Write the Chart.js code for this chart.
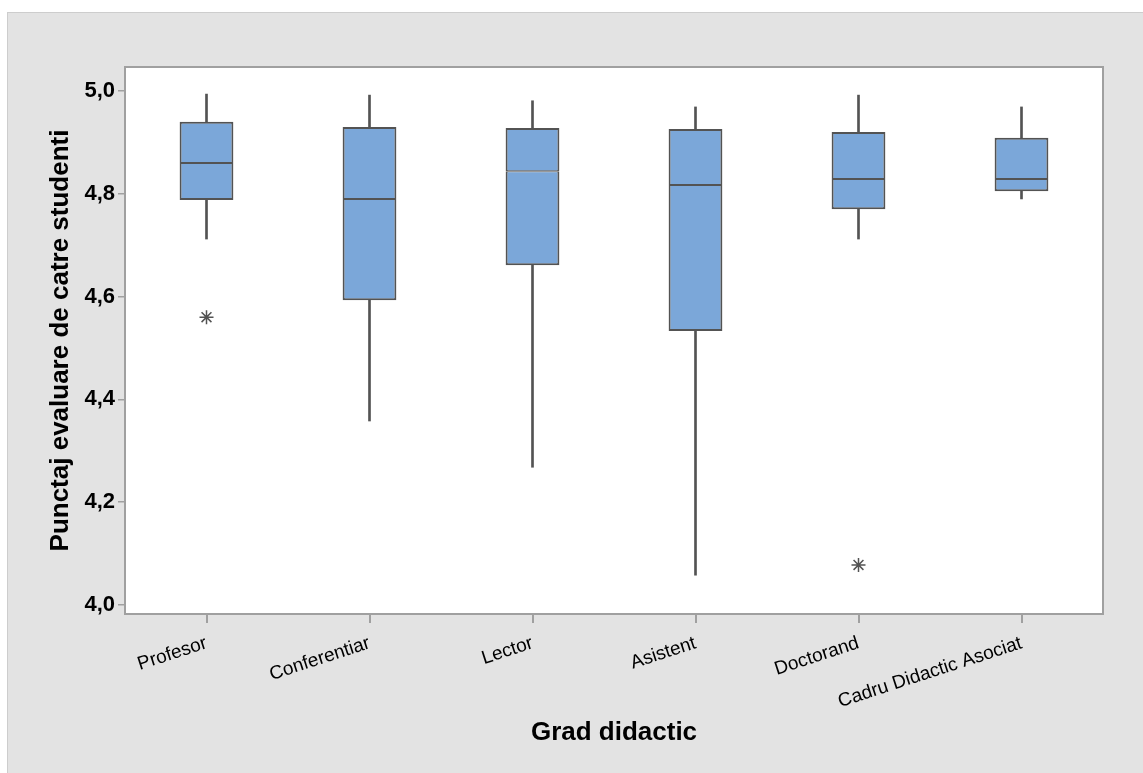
<!DOCTYPE html>
<html>
<head>
<meta charset="utf-8">
<script src="https://cdn.jsdelivr.net/npm/chart.js@4/dist/chart.umd.min.js"></script>
<style>
  body { margin: 0; background: #fff; }
  #wrap {
    position: absolute; left: 7px; top: 12px; width: 1136px; height: 761px;
    background: #e3e3e3; border-top: 1px solid #cdcdcd; border-left: 1px solid #cdcdcd;
  }
</style>
</head>
<body>
<div id="wrap"><canvas id="myChart"></canvas></div>
<script>
// Grad didactic - box plot values
const categories = ['Profesor', 'Conferentiar', 'Lector', 'Asistent', 'Doctorand', 'Cadru Didactic Asociat'];
const whiskerLow = [4.712, 4.358, 4.268, 4.058, 4.712, 4.790];
const q1Values   = [4.788, 4.593, 4.661, 4.533, 4.770, 4.805];
const medians    = [4.860, 4.790, 4.844, 4.817, 4.829, 4.829];
const q3Values   = [4.940, 4.930, 4.928, 4.926, 4.920, 4.909];
const whiskerHigh = [4.994, 4.992, 4.981, 4.969, 4.992, 4.969];
const outliers   = [4.560, null, null, null, 4.078, null];
const yTicks = [4.0, 4.2, 4.4, 4.6, 4.8, 5.0];

const BOX_COLOR = '#7ba7d9';
const LINE_COLOR = '#535353';
const FRAME_COLOR = '#a0a0a0';

const pair = (a, b) => a.map((v, i) => [v, b[i]]);

// white plot area and grey frame
const plotFrame = {
    id: 'plotFrame',
    beforeDatasetsDraw(chart) {
        const { ctx, chartArea: a } = chart;
        ctx.save();
        ctx.fillStyle = '#fff';
        ctx.fillRect(a.left, a.top, a.right - a.left, a.bottom - a.top);
        ctx.restore();
    },
    afterDatasetsDraw(chart) {
        const { ctx, chartArea: a } = chart;
        ctx.save();
        ctx.strokeStyle = FRAME_COLOR;
        ctx.lineWidth = 2;
        ctx.strokeRect(a.left, a.top, a.right - a.left, a.bottom - a.top);
        ctx.restore();
    }
};

const config = {
    type: 'bar',
    data: {
        labels: categories,
        datasets: [
            {
                label: 'whisker low',
                data: pair(whiskerLow, q1Values),
                backgroundColor: LINE_COLOR,
                borderWidth: 0,
                barThickness: 2,
                grouped: false,
                order: 3,
            },
            {
                label: 'whisker high',
                data: pair(q3Values, whiskerHigh),
                backgroundColor: LINE_COLOR,
                borderWidth: 0,
                barThickness: 2,
                grouped: false,
                order: 3,
            },
            {
                label: 'Q1-median',
                data: pair(q1Values, medians),
                backgroundColor: BOX_COLOR,
                borderColor: LINE_COLOR,
                borderWidth: { left: 2, right: 2, top: 1, bottom: 2 },
                borderSkipped: false,
                categoryPercentage: 1,
                barPercentage: 0.33,
                grouped: false,
                order: 2,
            },
            {
                label: 'median-Q3',
                data: pair(medians, q3Values),
                backgroundColor: BOX_COLOR,
                borderColor: LINE_COLOR,
                borderWidth: { left: 2, right: 2, top: 2, bottom: 1 },
                borderSkipped: false,
                categoryPercentage: 1,
                barPercentage: 0.33,
                grouped: false,
                order: 2,
            },
            {
                type: 'line',
                label: 'outliers',
                data: outliers,
                showLine: false,
                pointStyle: 'star',
                pointRadius: 7,
                borderColor: LINE_COLOR,
                borderWidth: 1.5,
                order: 1,
            }
        ]
    },
    options: {
        responsive: true,
        maintainAspectRatio: false,
        animation: false,
        layout: { padding: { left: 0, top: 54, right: 41, bottom: 0 } },
        plugins: {
            legend: { display: false },
            tooltip: { enabled: false },
        },
        scales: {
            x: {
                offset: true,
                grid: { offset: false, drawOnChartArea: false, drawTicks: true, tickLength: 9, color: FRAME_COLOR, lineWidth: 2 },
                border: { display: false },
                ticks: {
                    color: '#000',
                    font: { family: 'Liberation Sans', size: 19 },
                    minRotation: 18, maxRotation: 18,
                    autoSkip: false,
                    padding: 9,
                },
                title: {
                    display: true,
                    text: 'Grad didactic',
                    color: '#000',
                    font: { family: 'Liberation Sans', size: 26, weight: 'bold' },
                    padding: { top: 0, bottom: 26 },
                },
                afterFit(scale) { scale.height = 160; },
            },
            y: {
                min: 3.9825,
                max: 5.0467,
                afterBuildTicks(scale) { scale.ticks = yTicks.map(v => ({ value: v })); },
                grid: { drawOnChartArea: false, drawTicks: true, tickLength: 7, color: FRAME_COLOR, lineWidth: 1.5 },
                border: { display: false },
                ticks: {
                    color: '#000',
                    font: { family: 'Liberation Sans', size: 22, weight: 'bold' },
                    padding: 3,
                    callback: v => v.toFixed(1).replace('.', ','),
                },
                title: {
                    display: true,
                    text: 'Punctaj evaluare de catre studenti',
                    color: '#000',
                    font: { family: 'Liberation Sans', size: 26, weight: 'bold' },
                    padding: { top: 37, bottom: 0 },
                },
                afterFit(scale) { scale.width = 117; },
            }
        }
    },
    plugins: [plotFrame]
};

const myChart = new Chart(document.getElementById('myChart'), config);
</script>
</body>
</html>
